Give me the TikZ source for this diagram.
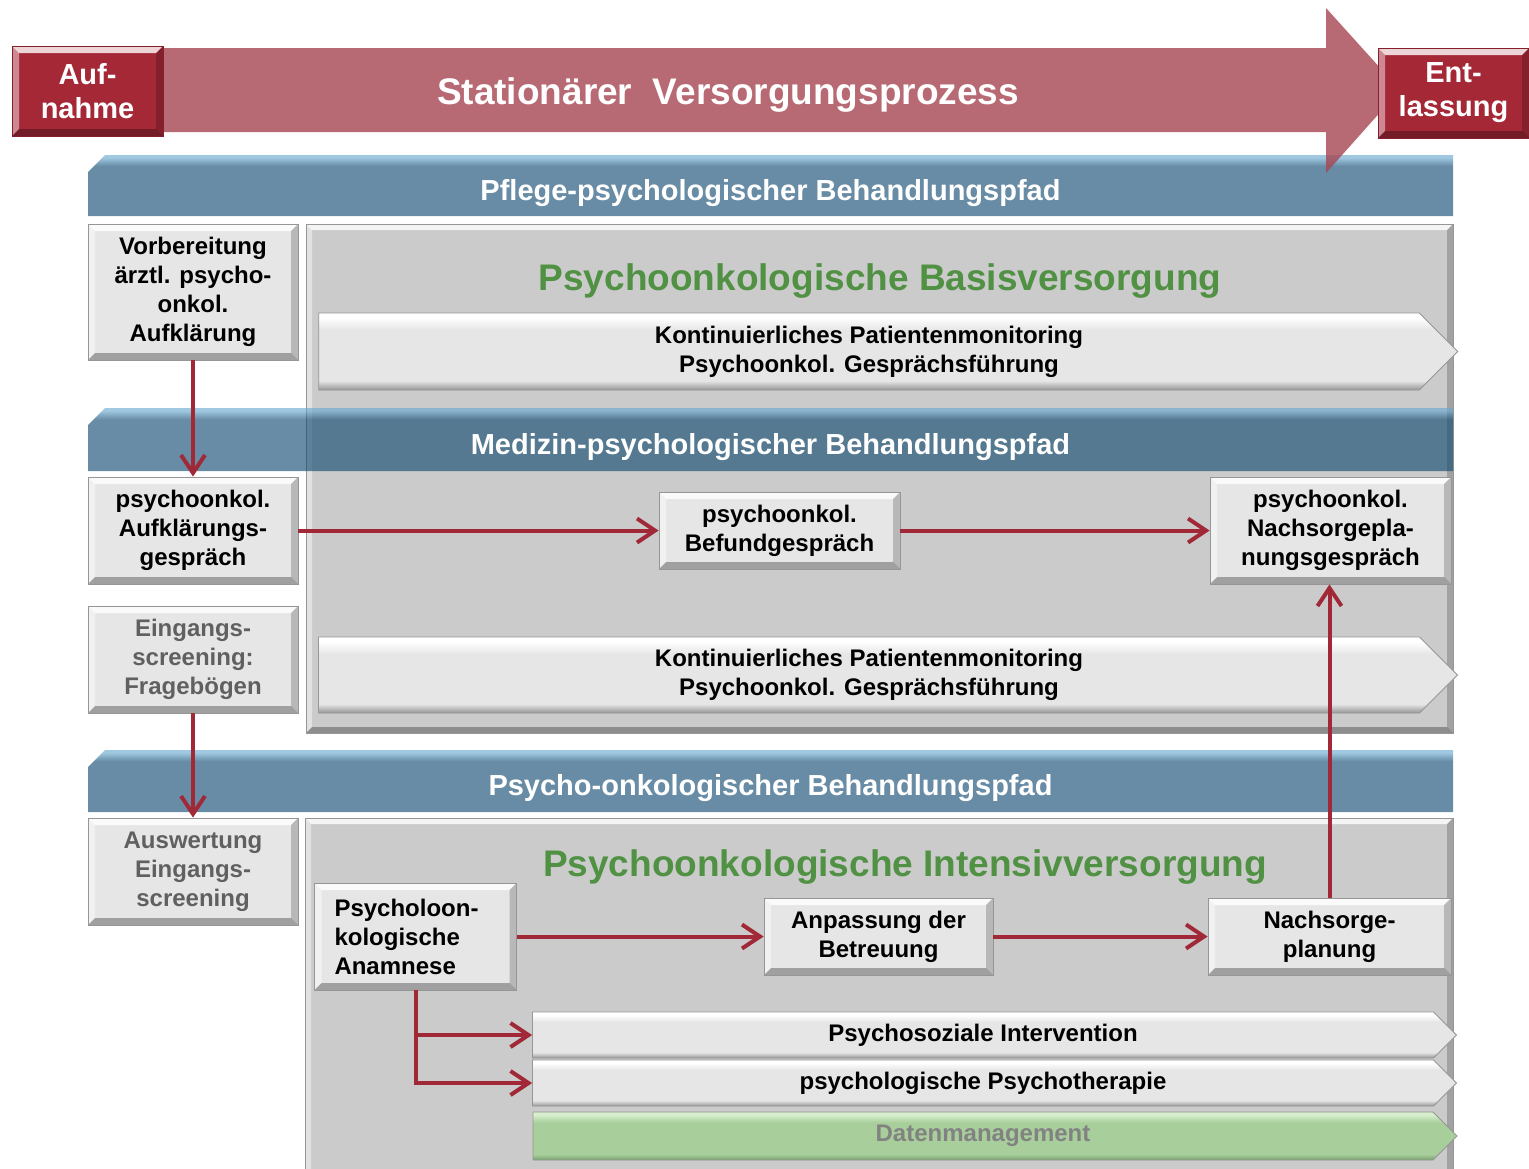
\documentclass[tikz,border=0pt]{standalone}
\usepackage{fontspec}
\setmainfont{Liberation Sans}
\usetikzlibrary{positioning, arrows.meta, shapes.misc, shapes.symbols}
\definecolor{procred}{RGB}{166,69,81}
\definecolor{gatered}{RGB}{165,40,55}
\definecolor{flowred}{RGB}{160,40,55}
\definecolor{bandbase}{RGB}{17,74,113}
\definecolor{bandlight}{RGB}{105,168,208}
\definecolor{panelgray}{RGB}{203,203,203}
\definecolor{boxgray}{RGB}{230,230,230}
\definecolor{edgegray}{RGB}{150,150,150}
\definecolor{titlegreen}{RGB}{80,145,68}
\definecolor{datagreen}{RGB}{168,207,155}
\definecolor{datalight}{RGB}{215,238,205}
\definecolor{datadark}{RGB}{120,160,110}
\definecolor{mutedtext}{RGB}{96,96,96}
\definecolor{datatext}{RGB}{130,130,130}
\pgfdeclareverticalshading{chevshade}{100bp}{color(0bp)=(edgegray); color(25bp)=(edgegray); color(31bp)=(boxgray); color(64bp)=(boxgray); color(72bp)=(white); color(100bp)=(white)}
\pgfdeclareverticalshading{datashade}{100bp}{color(0bp)=(datadark); color(25bp)=(datadark); color(31bp)=(datagreen); color(64bp)=(datagreen); color(72bp)=(datalight); color(100bp)=(datalight)}
\pgfdeclareverticalshading{bandshade}{100bp}{color(0bp)=(bandbase); color(25bp)=(bandbase); color(66bp)=(bandbase); color(73bp)=(bandlight); color(100bp)=(bandlight)}
\tikzset{
bevel/.style={path picture={
 \fill[white, opacity=0.8] (path picture bounding box.north west) -- (path picture bounding box.north east) -- ([shift={(-#1,-#1)}]path picture bounding box.north east) -- ([shift={(#1,-#1)}]path picture bounding box.north west) -- cycle;
 \fill[white, opacity=0.45] (path picture bounding box.north west) -- ([shift={(#1,-#1)}]path picture bounding box.north west) -- ([shift={(#1,#1)}]path picture bounding box.south west) -- (path picture bounding box.south west) -- cycle;
 \fill[black, opacity=0.3] (path picture bounding box.south west) -- (path picture bounding box.south east) -- ([shift={(-#1,#1)}]path picture bounding box.south east) -- ([shift={(#1,#1)}]path picture bounding box.south west) -- cycle;
 \fill[black, opacity=0.2] (path picture bounding box.north east) -- (path picture bounding box.south east) -- ([shift={(-#1,#1)}]path picture bounding box.south east) -- ([shift={(-#1,-#1)}]path picture bounding box.north east) -- cycle;}},
bevel/.default=3.5pt,
carebox/.style={rectangle, draw=edgegray, fill=boxgray, bevel, align=center, inner sep=2pt, font=\bfseries\fontsize{12}{14.5}\selectfont},
muted/.style={text=mutedtext},
panel/.style={rectangle, draw=edgegray, fill=panelgray, bevel=3pt},
band/.style={chamfered rectangle, chamfered rectangle corners=north west, chamfered rectangle xsep=5pt, shade, shading=bandshade, fill opacity=0.635, text opacity=1, text=white, minimum width=682.5pt, text height=14.5pt, text depth=0pt, font=\bfseries\fontsize{14.5}{17}\selectfont},
gate/.style={rectangle, draw=gatered!80!black, fill=gatered, bevel, text=white, align=center, minimum width=75.5pt, minimum height=45pt, font=\bfseries\fontsize{14.5}{17}\selectfont},
chevron/.style={signal, signal to=east, signal pointer angle=90, draw=edgegray, shade, shading=chevshade, align=center, font=\bfseries\fontsize{12}{14.5}\selectfont},
title/.style={text=titlegreen, font=\bfseries\fontsize{18.5}{22}\selectfont},
flow/.style={draw=flowred, line width=2pt, -{Straight Barb[length=9pt, width=12pt]}}}

\begin{document}
\begin{tikzpicture}[x=0.5pt, y=-0.5pt]
\useasboundingbox (0,0) rectangle (1529,1168);
% Behandlungspfade
\node [band, minimum height=30.5pt] (pflege) at (770.5,185.5) {Pflege-psychologischer Behandlungspfad};
\node [band, minimum height=31pt] (psyband) at (770.5,781) {Psycho-onkologischer Behandlungspfad};
% Prozesspfeil
\fill [procred, opacity=0.8] (160,48) -- (1326,48) -- (1326,8) -- (1400,90) -- (1326,173) -- (1326,132) -- (160,132) -- cycle;
\node [text=white, font=\bfseries\fontsize{18.5}{22}\selectfont] (prozess) at (728,95) {Stationärer\ \ Versorgungsprozess};
\node [gate] (aufnahme) at (87.5,91) {Auf-\\nahme};
\node [gate] (entlassung) at (1453.5,93) {Ent-\\lassung};
% Basisversorgung
\node [panel, minimum width=573.5pt, minimum height=254.5pt] (basis) at (879.5,478.5) {};
\node [title] (basistitle) at (880,281) {Psychoonkologische Basisversorgung};
\node [chevron, minimum width=569.5pt, minimum height=38.5pt] (monitor1) at (869,351.5) {Kontinuierliches Patientenmonitoring\\Psychoonkol. Gesprächsführung};
\node [chevron, minimum width=569.5pt, minimum height=38pt] (monitor2) at (869,675) {Kontinuierliches Patientenmonitoring\\Psychoonkol. Gesprächsführung};
\node [band, minimum height=31.5pt] (medizin) at (770.5,439.5) {Medizin-psychologischer Behandlungspfad};
\node [carebox, minimum width=120.5pt, minimum height=38.5pt] (befund) at (779.5,530.5) {psychoonkol.\\Befundgespräch};
\node [carebox, minimum width=120.5pt, minimum height=53.5pt] (nachgespr) at (1330.5,530.5) {psychoonkol.\\Nachsorgepla-\\nungsgespräch};
% linke Spalte
\node [carebox, minimum width=105pt, minimum height=68pt] (vorb) at (193,292) {Vorbereitung\\ärztl. psycho-\\onkol.\\Aufklärung};
\node [carebox, minimum width=105pt, minimum height=53.5pt] (aufkl) at (193,530.5) {psychoonkol.\\Aufklärungs-\\gespräch};
\node [carebox, muted, minimum width=105pt, minimum height=53.5pt] (eingang) at (193,659.5) {Eingangs-\\screening:\\Fragebögen};
\node [carebox, muted, minimum width=105pt, minimum height=53.5pt] (auswert) at (193,871.5) {Auswertung\\Eingangs-\\screening};
% Intensivversorgung
\node [panel, minimum width=574pt, minimum height=179pt] (intensiv) at (879,997) {};
\node [title] (intensivtitle) at (905,867) {Psychoonkologische Intensivversorgung};
\node [carebox, align=left, text width=81pt, inner xsep=10pt, minimum height=53.5pt] (anamnese) at (415.5,936.5) {Psycholoon-\\kologische\\Anamnese};
\node [carebox, minimum width=114.5pt, minimum height=38.5pt] (anpassung) at (878.5,936.5) {Anpassung der\\Betreuung};
\node [carebox, minimum width=121.5pt, minimum height=38.5pt] (nachsorge) at (1329.5,936.5) {Nachsorge-\\planung};
\node [chevron, minimum width=462pt, minimum height=23pt] (psychosozial) at (983,1035) {Psychosoziale Intervention};
\node [chevron, minimum width=462pt, minimum height=23pt] (therapie) at (983,1083) {psychologische Psychotherapie};
\node [chevron, shading=datashade, text=datatext, minimum width=462pt, minimum height=24pt] (daten) at (983,1136) {Datenmanagement};
% Verbindungen
\draw [flow] (vorb) -- (aufkl);
\draw [flow] (aufkl) -- (befund);
\draw [flow] (befund) -- (nachgespr);
\draw [flow] (eingang) -- (auswert);
\draw [flow] (anamnese) -- (anpassung);
\draw [flow] (anpassung) -- (nachsorge);
\draw [flow] (nachsorge.north) -- (nachsorge.north |- nachgespr.south);
\draw [flow] (anamnese.south) |- (psychosozial.west);
\draw [flow] (anamnese.south) |- (therapie.west);
\end{tikzpicture}
\end{document}
